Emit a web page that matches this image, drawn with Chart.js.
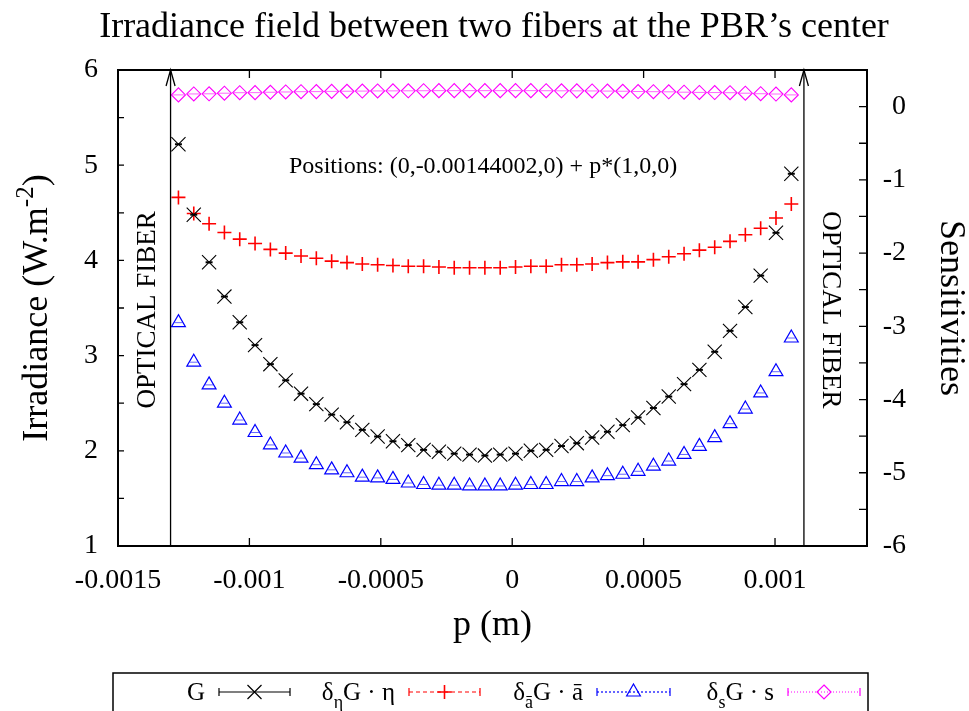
<!DOCTYPE html>
<html>
<head>
<meta charset="utf-8">
<script src="https://cdn.jsdelivr.net/npm/chart.js@4"></script>
<style>
  html, body { margin: 0; padding: 0; background: #fff; }
  #wrap { width: 969px; height: 711px; position: relative; }
</style>
</head>
<body>
<div id="wrap"><canvas id="chart"></canvas></div>
<script>
// sample positions p (m) along the line between the fibers
const positions = [
  -0.001270, -0.0012117, -0.0011534, -0.0010951, -0.0010368, -0.0009785, -0.0009202,
  -0.0008619, -0.0008036, -0.0007453, -0.000687, -0.0006287, -0.0005704, -0.0005121,
  -0.0004538, -0.0003955, -0.0003372, -0.0002789, -0.0002206, -0.0001623, -0.000104,
  -0.0000457, 0.0000126, 0.0000709, 0.0001292, 0.0001875, 0.0002458, 0.0003041,
  0.0003624, 0.0004207, 0.000479, 0.0005373, 0.0005956, 0.0006539, 0.0007122,
  0.0007705, 0.0008288, 0.0008871, 0.0009454, 0.0010037, 0.001062
];
// G, irradiance (left axis)
const irradiance = [
  5.22, 4.48, 3.98, 3.62, 3.35, 3.11, 2.91, 2.74, 2.60, 2.49, 2.38, 2.30, 2.22, 2.15,
  2.10, 2.06, 2.01, 1.99, 1.97, 1.96, 1.95, 1.96, 1.97, 2.00, 2.01, 2.05, 2.08, 2.14,
  2.20, 2.27, 2.35, 2.45, 2.57, 2.70, 2.85, 3.04, 3.26, 3.51, 3.84, 4.29, 4.91
];
// sensitivities (right axis)
const sensEta = [
  -1.24, -1.46, -1.60, -1.72, -1.81, -1.87, -1.95, -2.00, -2.04, -2.07, -2.11, -2.13,
  -2.15, -2.16, -2.17, -2.18, -2.18, -2.19, -2.20, -2.20, -2.20, -2.20, -2.19, -2.18,
  -2.18, -2.16, -2.16, -2.15, -2.13, -2.12, -2.12, -2.09, -2.05, -2.01, -1.96, -1.92,
  -1.84, -1.75, -1.66, -1.52, -1.33
];
const sensAbar = [
  -2.95, -3.49, -3.80, -4.05, -4.28, -4.45, -4.62, -4.73, -4.80, -4.89, -4.96, -5.00,
  -5.06, -5.07, -5.09, -5.14, -5.16, -5.17, -5.17, -5.18, -5.18, -5.18, -5.17, -5.16,
  -5.16, -5.12, -5.12, -5.07, -5.04, -5.02, -4.98, -4.91, -4.84, -4.75, -4.64, -4.52,
  -4.33, -4.13, -3.91, -3.62, -3.16
];
const sensS = [
  0.160, 0.173, 0.175, 0.183, 0.190, 0.191, 0.196, 0.200, 0.204, 0.205, 0.208, 0.210,
  0.212, 0.214, 0.215, 0.216, 0.217, 0.218, 0.218, 0.218, 0.218, 0.218, 0.218, 0.218,
  0.217, 0.216, 0.215, 0.214, 0.212, 0.210, 0.206, 0.204, 0.202, 0.197, 0.194, 0.192,
  0.190, 0.183, 0.176, 0.172, 0.160
];

const xTicks = [-0.0015, -0.001, -0.0005, 0, 0.0005, 0.001];
const xTickLabels = ["-0.0015", "-0.001", "-0.0005", "0", "0.0005", "0.001"];
const yTicks = [1, 2, 3, 4, 5, 6];
const y2Ticks = [-6, -5, -4, -3, -2, -1, 0];
const fiberPos = [-0.0013, 0.00111];

const FONT = '"Liberation Serif", "Times New Roman", serif';
Chart.defaults.font.family = FONT;
Chart.defaults.color = '#000';

const pts = ys => positions.map((x, i) => ({ x: x, y: ys[i] }));

function series(label, ys, axis, color, style, r, w) {
  return {
    label: label, data: pts(ys), yAxisID: axis,
    pointStyle: style, pointRadius: r, pointHoverRadius: r,
    pointBorderColor: color, pointBackgroundColor: 'rgba(0,0,0,0)', pointBorderWidth: w
  };
}
// tiny error bar caps seen at the centre of each marker
function caps(ys, axis, color, r, w) {
  return {
    data: pts(ys), yAxisID: axis, pointStyle: 'line', pointRadius: r, pointHoverRadius: r,
    pointBorderColor: color, pointBorderWidth: w
  };
}
function fiber(p) {
  return {
    data: [{ x: p, y: 1 }, { x: p, y: 6 }], yAxisID: 'y', showLine: true,
    borderColor: '#000', borderWidth: 1.3, pointRadius: 0
  };
}

const legendItems = [
  { parts: [['G', '']], color: '#000', dash: [], marker: 'x', x0: 219, x1: 290 },
  { parts: [['δ', ''], ['η', 'sub'], ['G · η', '']], color: '#ff0000', dash: [4, 3], marker: '+', x0: 409, x1: 480 },
  { parts: [['δ', ''], ['ā', 'sub'], ['G · ā', '']], color: '#0000ff', dash: [2, 2], marker: 'tri', x0: 597, x1: 670 },
  { parts: [['δ', ''], ['s', 'sub'], ['G · s', '']], color: '#ff00ff', dash: [1, 2], marker: 'dia', x0: 788, x1: 860 }
];

function marker(ctx, kind, cx, cy) {
  ctx.beginPath();
  if (kind === 'x') {
    ctx.moveTo(cx - 7, cy - 7); ctx.lineTo(cx + 7, cy + 7);
    ctx.moveTo(cx - 7, cy + 7); ctx.lineTo(cx + 7, cy - 7);
  } else if (kind === '+') {
    ctx.lineWidth = 1.6;
    ctx.moveTo(cx - 7, cy); ctx.lineTo(cx + 7, cy);
    ctx.moveTo(cx, cy - 7); ctx.lineTo(cx, cy + 7);
  } else if (kind === 'tri') {
    ctx.moveTo(cx, cy - 8); ctx.lineTo(cx + 6.9, cy + 4); ctx.lineTo(cx - 6.9, cy + 4); ctx.closePath();
  } else {
    ctx.moveTo(cx, cy - 7); ctx.lineTo(cx + 7, cy); ctx.lineTo(cx, cy + 7); ctx.lineTo(cx - 7, cy); ctx.closePath();
  }
  ctx.stroke();
}

const decor = {
  id: 'decor',
  afterDatasetsDraw(chart) {
    const { ctx, chartArea: a, scales: { x, y, y2 } } = chart;
    ctx.save();
    ctx.strokeStyle = '#000';
    ctx.fillStyle = '#000';

    // title
    ctx.textAlign = 'center';
    ctx.textBaseline = 'middle';
    ctx.font = '36px ' + FONT;
    ctx.fillText('Irradiance field between two fibers at the PBR’s center', 494, 28);

    // inward ticks
    ctx.lineWidth = 1.3;
    ctx.beginPath();
    xTicks.forEach(v => {
      const px = x.getPixelForValue(v);
      ctx.moveTo(px, a.bottom); ctx.lineTo(px, a.bottom - 8);
      ctx.moveTo(px, a.top); ctx.lineTo(px, a.top + 8);
    });
    for (let v = 1.5; v < 6; v += 0.5) {
      const py = y.getPixelForValue(v);
      ctx.moveTo(a.left, py); ctx.lineTo(a.left + 6, py);
    }
    for (let v = -5.5; v <= 0; v += 0.5) {
      const py = y2.getPixelForValue(v);
      ctx.moveTo(a.right, py); ctx.lineTo(a.right - 8, py);
    }
    // arrow heads of the fibers
    fiberPos.forEach(p => {
      const px = x.getPixelForValue(p), py = y.getPixelForValue(6);
      ctx.moveTo(px - 4.5, py + 16); ctx.lineTo(px, py); ctx.lineTo(px + 4.5, py + 16);
    });
    ctx.stroke();

    // frame
    ctx.lineWidth = 2;
    ctx.strokeRect(a.left, a.top, a.right - a.left, a.bottom - a.top);

    // labels inside the plot
    ctx.font = '24px ' + FONT;
    ctx.fillText('Positions: (0,-0.00144002,0) + p*(1,0,0)', x.getPixelForValue(-0.000111), y.getPixelForValue(4.98));
    ctx.font = '27px ' + FONT;
    [[-0.001386, -Math.PI / 2], [0.001209, Math.PI / 2]].forEach(([p, rot]) => {
      ctx.save();
      ctx.translate(x.getPixelForValue(p), y.getPixelForValue(3.48));
      ctx.rotate(rot);
      ctx.fillText('OPTICAL FIBER', 0, 0);
      ctx.restore();
    });

    // left axis title with superscript
    ctx.save();
    ctx.translate(38, (a.top + a.bottom) / 2);
    ctx.rotate(-Math.PI / 2);
    ctx.textAlign = 'left';
    ctx.font = '36px ' + FONT;
    const t1 = 'Irradiance (W.m', t3 = ')';
    const w1 = ctx.measureText(t1).width, w3 = ctx.measureText(t3).width;
    ctx.font = '25px ' + FONT;
    const w2 = ctx.measureText('-2').width;
    let sx = -(w1 + w2 + w3) / 2;
    ctx.font = '36px ' + FONT;
    ctx.fillText(t1, sx, 0); sx += w1;
    ctx.font = '25px ' + FONT;
    ctx.fillText('-2', sx, -12); sx += w2;
    ctx.font = '36px ' + FONT;
    ctx.fillText(t3, sx, 0);
    ctx.restore();

    // key box
    ctx.lineWidth = 1.5;
    ctx.strokeRect(113, 673, 755, 60);
    const ly = 692;
    legendItems.forEach(it => {
      ctx.textAlign = 'left';
      ctx.textBaseline = 'alphabetic';
      let total = 0;
      const widths = it.parts.map(([s, kind]) => {
        ctx.font = (kind === 'sub' ? '18px ' : '25px ') + FONT;
        const w = ctx.measureText(s).width;
        total += w;
        return w;
      });
      let tx = it.x0 - 14 - total;
      it.parts.forEach(([s, kind], i) => {
        ctx.font = (kind === 'sub' ? '18px ' : '25px ') + FONT;
        ctx.fillText(s, tx, kind === 'sub' ? ly + 16 : ly + 8);
        tx += widths[i];
      });
      ctx.strokeStyle = it.color;
      ctx.lineWidth = 1.2;
      ctx.setLineDash(it.dash);
      ctx.beginPath();
      ctx.moveTo(it.x0, ly); ctx.lineTo(it.x1, ly);
      ctx.stroke();
      ctx.setLineDash([]);
      ctx.beginPath();
      ctx.moveTo(it.x0, ly - 4); ctx.lineTo(it.x0, ly + 4);
      ctx.moveTo(it.x1, ly - 4); ctx.lineTo(it.x1, ly + 4);
      ctx.stroke();
      marker(ctx, it.marker, (it.x0 + it.x1) / 2, ly);
    });
    ctx.restore();
  }
};

new Chart(document.getElementById('chart'), {
  type: 'scatter',
  data: {
    datasets: [
      fiber(fiberPos[0]),
      fiber(fiberPos[1]),
      caps(irradiance, 'y', '#000', 3.5, 2),
      caps(sensAbar, 'y2', 'rgba(0,0,255,0.6)', 4, 1),
      caps(sensS, 'y2', 'rgba(255,0,255,0.6)', 6, 1),
      series('G', irradiance, 'y', '#000', 'crossRot', 10, 1.1),
      series('δηG · η', sensEta, 'y2', '#ff0000', 'cross', 7, 1.6),
      series('δāG · ā', sensAbar, 'y2', '#0000ff', 'triangle', 8, 1.2),
      series('δsG · s', sensS, 'y2', '#ff00ff', 'rectRot', 7, 1.1)
    ]
  },
  options: {
    responsive: true,
    maintainAspectRatio: false,
    animation: false,
    layout: { padding: { left: 0, right: 63, top: 70, bottom: 61 } },
    plugins: {
      legend: { display: false },
      tooltip: { enabled: false },
      title: { display: false }
    },
    scales: {
      x: {
        type: 'linear', min: -0.0015, max: 0.00135,
        grid: { display: false, drawTicks: false },
        border: { display: false },
        afterBuildTicks: s => { s.ticks = xTicks.map(v => ({ value: v })); },
        afterFit: s => { s.height = 104; },
        ticks: {
          font: { size: 28 }, padding: 18, maxRotation: 0, autoSkip: false,
          callback: v => xTickLabels[xTicks.indexOf(v)]
        },
        title: { display: true, text: 'p (m)', font: { size: 36 }, padding: { top: 0, bottom: 3 } }
      },
      y: {
        type: 'linear', position: 'left', min: 1, max: 6,
        grid: { display: false, drawTicks: false },
        border: { display: false },
        afterBuildTicks: s => { s.ticks = yTicks.map(v => ({ value: v })); },
        afterFit: s => { s.width = 118; },
        ticks: { font: { size: 28 }, padding: 20, callback: v => String(v) }
      },
      y2: {
        type: 'linear', position: 'right', min: -6, max: 0.5,
        grid: { display: false, drawTicks: false },
        border: { display: false },
        afterBuildTicks: s => { s.ticks = y2Ticks.map(v => ({ value: v })); },
        afterFit: s => { s.width = 39; },
        ticks: { font: { size: 28 }, padding: 10, crossAlign: 'far', callback: v => String(v) },
        title: { display: true, text: 'Sensitivities', font: { size: 36 }, padding: { top: -65.6 } }
      }
    }
  },
  plugins: [decor]
});
</script>
</body>
</html>
